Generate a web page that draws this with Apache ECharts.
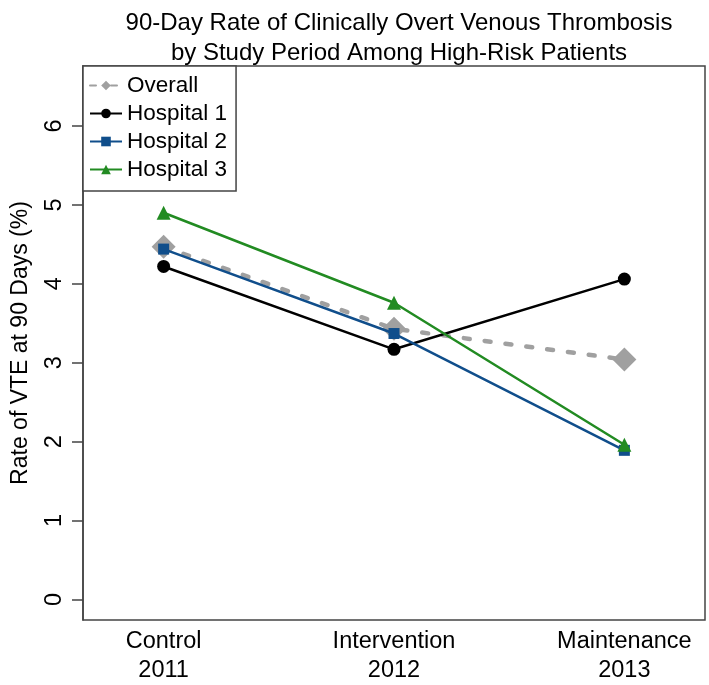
<!DOCTYPE html>
<html><head><meta charset="utf-8">
<script src="https://cdn.jsdelivr.net/npm/echarts@6/dist/echarts.min.js"></script>
<style>html,body{margin:0;padding:0;background:#fff}#c{width:709px;height:685px}</style>
</head><body><div id="c"></div>
<script>
const periods = ['Control', 'Intervention', 'Maintenance'];
const years = ['2011', '2012', '2013'];
const xPos = [1, 2, 3];
const overall = [4.47, 3.43, 3.04];
const hospital1 = [4.22, 3.17, 4.06];
const hospital2 = [4.44, 3.37, 1.89];
const hospital3 = [4.90, 3.76, 1.96];
const yTicks = [0, 1, 2, 3, 4, 5, 6];
const titleLines = ['90-Day Rate of Clinically Overt Venous Thrombosis', 'by Study Period Among High-Risk Patients'];
const yTitle = 'Rate of VTE at 90 Days (%)';

const FONT = '"Liberation Sans", Arial, Helvetica, sans-serif';
const pts = vals => xPos.map((x, i) => [x, vals[i]]);

const chart = echarts.init(document.getElementById('c'), null, {renderer: 'canvas'});
chart.setOption({
  backgroundColor: '#fff',
  animation: false,
  title: {
    text: titleLines.join('\n'),
    left: 394, top: 3, textAlign: 'center',
    textStyle: {fontFamily: FONT, fontSize: 24, fontWeight: 'normal', color: '#000', lineHeight: 30}
  },
  grid: {left: 83, right: 4, top: 66, bottom: 62, show: true, borderColor: '#444', borderWidth: 1.5, containLabel: false},
  legend: {
    orient: 'vertical', left: 83, top: 66,
    padding: [8, 9, 10, 6],
    itemWidth: 32, itemHeight: 12, itemGap: 5,
    backgroundColor: '#fff', borderColor: '#444', borderWidth: 1.5, borderRadius: 0,
    textStyle: {fontFamily: FONT, fontSize: 22.5, color: '#000'},
    data: ['Overall', 'Hospital 1', 'Hospital 2', 'Hospital 3']
  },
  xAxis: {
    type: 'value', min: 0.65, max: 3.35,
    axisLine: {show: false}, axisTick: {show: false}, splitLine: {show: false},
    axisLabel: {
      customValues: xPos, margin: 7,
      fontFamily: FONT, fontSize: 23.5, color: '#000', lineHeight: 29,
      formatter: v => { const i = xPos.indexOf(v); return i < 0 ? '' : periods[i] + '\n' + years[i]; }
    }
  },
  yAxis: {
    type: 'value', min: -0.26, max: 6.76,
    name: yTitle, nameLocation: 'middle', nameGap: 51, nameRotate: 90,
    nameTextStyle: {fontFamily: FONT, fontSize: 23, color: '#000'},
    axisLine: {show: true, lineStyle: {color: '#444', width: 1.5}},
    axisTick: {show: true, customValues: yTicks, length: 11, lineStyle: {color: '#444', width: 1.5}},
    splitLine: {show: false},
    axisLabel: {customValues: yTicks, rotate: 90, margin: 16, fontFamily: FONT, fontSize: 23.5, color: '#000'}
  },
  series: [
    {name: 'Overall', type: 'line', data: pts(overall), symbol: 'diamond', symbolSize: 24,
     itemStyle: {color: '#a0a0a0'}, lineStyle: {color: '#a0a0a0', width: 4.5, type: [6, 15], cap: 'round'}, z: 2},
    {name: 'Hospital 1', type: 'line', data: pts(hospital1), symbol: 'circle', symbolSize: 13,
     itemStyle: {color: '#000'}, lineStyle: {color: '#000', width: 2.5}, z: 3},
    {name: 'Hospital 2', type: 'line', data: pts(hospital2), symbol: 'rect', symbolSize: 11,
     itemStyle: {color: '#104E8B'}, lineStyle: {color: '#104E8B', width: 2.5}, z: 4},
    {name: 'Hospital 3', type: 'line', data: pts(hospital3), symbol: 'triangle', symbolSize: 14,
     itemStyle: {color: '#228B22'}, lineStyle: {color: '#228B22', width: 2.5}, z: 5}
  ]
});
</script></body></html>
